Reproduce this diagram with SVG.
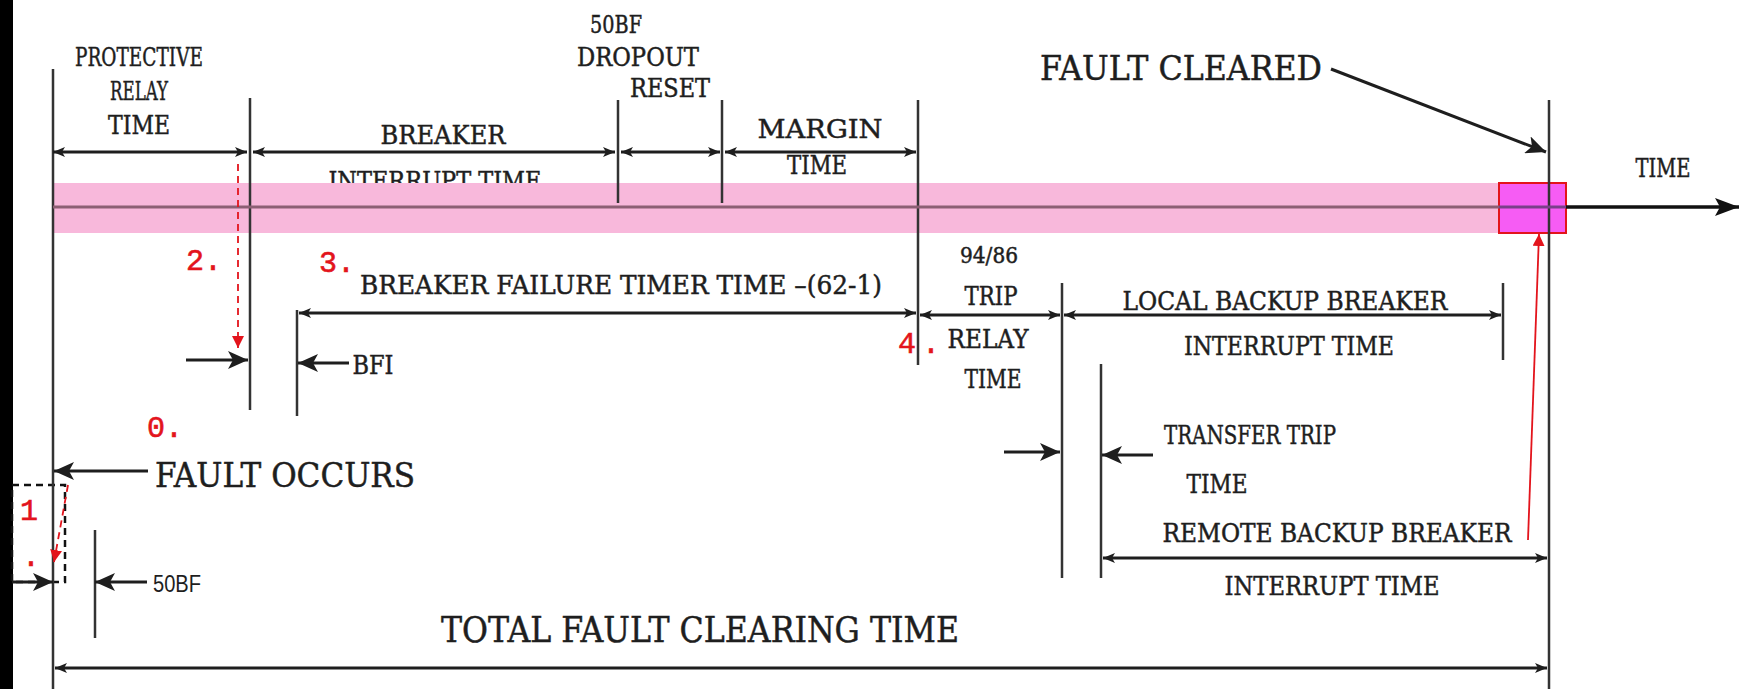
<svg xmlns="http://www.w3.org/2000/svg" width="1739" height="689" viewBox="0 0 1739 689">
<style>
.t{font-family:"DejaVu Serif","Liberation Serif",serif;fill:#1e1e1e;stroke:#1e1e1e;stroke-width:0.5;text-anchor:middle}
.s{font-family:"Liberation Sans",Arial,sans-serif;fill:#1e1e1e}
.r{font-family:"Liberation Mono","DejaVu Sans Mono",monospace;fill:#e3141c;stroke:#e3141c;stroke-width:0.6}
.vl{stroke:#333;stroke-width:2.5;fill:none}
.dim{stroke:#1e1e1e;stroke-width:3;fill:none;marker-start:url(#ah);marker-end:url(#ah)}
.one{stroke:#1e1e1e;stroke-width:3;fill:none;marker-end:url(#ahb)}
.rd{stroke:#e3141c;stroke-width:1.8;fill:none;stroke-dasharray:7 5;marker-end:url(#ahr)}
</style>
<defs>
<marker id="ah" viewBox="0 0 12 10" refX="12" refY="5" markerWidth="12" markerHeight="10" markerUnits="userSpaceOnUse" orient="auto-start-reverse"><path d="M0,0 L12,5 L0,10 L3,5 Z" fill="#1e1e1e"/></marker>
<marker id="ahb" viewBox="0 0 20 18" refX="20" refY="9" markerWidth="20" markerHeight="18" markerUnits="userSpaceOnUse" orient="auto"><path d="M0,0 L20,9 L0,18 L5,9 Z" fill="#1e1e1e"/></marker>
<marker id="ahr" viewBox="0 0 12 12" refX="12" refY="6" markerWidth="12" markerHeight="12" markerUnits="userSpaceOnUse" orient="auto"><path d="M0,0 L12,6 L0,12 Z" fill="#e3141c"/></marker>
<marker id="axis" viewBox="0 0 24 18" refX="24" refY="9" markerWidth="24" markerHeight="18" markerUnits="userSpaceOnUse" orient="auto"><path d="M0,0 L24,9 L0,18 L5,9 Z" fill="#111"/></marker>
</defs>
<rect x="0" y="0" width="1739" height="689" fill="#ffffff"/>
<rect x="0" y="0" width="13" height="689" fill="#000"/>

<g id="labels-top">
<text class="t" x="139" y="66" font-size="26" textLength="128" lengthAdjust="spacingAndGlyphs">PROTECTIVE</text>
<text class="t" x="139" y="100" font-size="26" textLength="58" lengthAdjust="spacingAndGlyphs">RELAY</text>
<text class="t" x="139" y="134" font-size="26" textLength="62" lengthAdjust="spacingAndGlyphs">TIME</text>
<text class="t" x="443" y="144" font-size="26" textLength="125" lengthAdjust="spacingAndGlyphs">BREAKER</text>
<text class="t" x="435" y="190" font-size="26" textLength="213" lengthAdjust="spacingAndGlyphs">INTERRUPT TIME</text>
<text class="t" x="616" y="33" font-size="24" textLength="52" lengthAdjust="spacingAndGlyphs">50BF</text>
<text class="t" x="638" y="66" font-size="26" textLength="122" lengthAdjust="spacingAndGlyphs">DROPOUT</text>
<text class="t" x="670" y="97" font-size="26" textLength="80" lengthAdjust="spacingAndGlyphs">RESET</text>
<text class="t" x="820" y="138" font-size="26" textLength="125" lengthAdjust="spacingAndGlyphs">MARGIN</text>
<text class="t" x="817" y="174" font-size="26" textLength="60" lengthAdjust="spacingAndGlyphs">TIME</text>
</g>

<g id="band">
<rect x="53" y="183" width="1446" height="50" fill="#f8b8db"/>
<rect x="1499" y="183" width="67" height="50" fill="#f65cf4" stroke="#e3141c" stroke-width="2"/>
</g>

<g id="axis-node">
<text class="t" x="1663" y="177" font-size="26" textLength="55" lengthAdjust="spacingAndGlyphs">TIME</text>
<text class="t" x="1181" y="80" font-size="34" textLength="282" lengthAdjust="spacingAndGlyphs">FAULT CLEARED</text>
</g>

<g id="labels-mid">
<text class="t" x="621" y="294" font-size="26" textLength="522" lengthAdjust="spacingAndGlyphs">BREAKER FAILURE TIMER TIME –(62-1)</text>
<text class="t" x="989" y="263" font-size="22" textLength="58" lengthAdjust="spacingAndGlyphs">94/86</text>
<text class="t" x="991" y="305" font-size="26" textLength="53" lengthAdjust="spacingAndGlyphs">TRIP</text>
<text class="t" x="988" y="348" font-size="26" textLength="81" lengthAdjust="spacingAndGlyphs">RELAY</text>
<text class="t" x="993" y="388" font-size="26" textLength="57" lengthAdjust="spacingAndGlyphs">TIME</text>
<text class="t" x="1285" y="310" font-size="26" textLength="325" lengthAdjust="spacingAndGlyphs">LOCAL BACKUP BREAKER</text>
<text class="t" x="1289" y="355" font-size="26" textLength="210" lengthAdjust="spacingAndGlyphs">INTERRUPT TIME</text>
<text class="t" x="373" y="374" font-size="26" textLength="41" lengthAdjust="spacingAndGlyphs">BFI</text>
<text class="t" x="285" y="487" font-size="34" textLength="260" lengthAdjust="spacingAndGlyphs">FAULT OCCURS</text>
<text class="t" x="1250" y="444" font-size="26" textLength="172" lengthAdjust="spacingAndGlyphs">TRANSFER TRIP</text>
<text class="t" x="1217" y="493" font-size="26" textLength="61" lengthAdjust="spacingAndGlyphs">TIME</text>
<text class="t" x="1337" y="542" font-size="26" textLength="349" lengthAdjust="spacingAndGlyphs">REMOTE BACKUP BREAKER</text>
<text class="t" x="1332" y="595" font-size="26" textLength="215" lengthAdjust="spacingAndGlyphs">INTERRUPT TIME</text>
<text class="s" x="153" y="592" font-size="24" textLength="48" lengthAdjust="spacingAndGlyphs">50BF</text>
<text class="t" x="700" y="642" font-size="36" textLength="518" lengthAdjust="spacingAndGlyphs">TOTAL FAULT CLEARING TIME</text>
</g>

<g id="markers-red">
<text class="r" x="186" y="270" font-size="30">2.</text>
<text class="r" x="319" y="272" font-size="30">3.</text>
<text class="r" x="898" y="353" font-size="30">4<tspan x="922">.</tspan></text>
<text class="r" x="147" y="437" font-size="30">0.</text>
<text class="r" x="20" y="520" font-size="30">1<tspan x="22" y="566">.</tspan></text>
<rect x="12" y="485" width="53" height="97" fill="none" stroke="#111" stroke-width="2.5" stroke-dasharray="7 5"/>
</g>

<g id="connectors">
<line class="vl" x1="53" y1="69" x2="53" y2="689"/>
<line class="vl" x1="250" y1="98" x2="250" y2="410"/>
<line class="vl" x1="618" y1="100" x2="618" y2="203"/>
<line class="vl" x1="722" y1="100" x2="722" y2="203"/>
<line class="vl" x1="918" y1="100" x2="918" y2="365"/>
<line class="vl" x1="1549" y1="100" x2="1549" y2="689"/>
<line class="vl" x1="297" y1="310" x2="297" y2="416"/>
<line class="vl" x1="1062" y1="283" x2="1062" y2="578"/>
<line class="vl" x1="1101" y1="364" x2="1101" y2="578"/>
<line class="vl" x1="1503" y1="283" x2="1503" y2="360"/>
<line class="vl" x1="95" y1="530" x2="95" y2="638"/>

<line stroke="#8c5f74" stroke-width="3" x1="53" y1="207" x2="1499" y2="207"/>
<line stroke="#7a3f8a" stroke-width="3" x1="1499" y1="207" x2="1566" y2="207"/>
<line stroke="#111" stroke-width="3.5" x1="1566" y1="207" x2="1739" y2="207" marker-end="url(#axis)"/>

<line class="dim" x1="53" y1="152" x2="247" y2="152"/>
<line class="dim" x1="253" y1="152" x2="615" y2="152"/>
<line class="dim" x1="621" y1="152" x2="720" y2="152"/>
<line class="dim" x1="725" y1="152" x2="916" y2="152"/>
<line class="dim" x1="299" y1="313" x2="916" y2="313"/>
<line class="dim" x1="920" y1="315" x2="1060" y2="315"/>
<line class="dim" x1="1064" y1="315" x2="1501" y2="315"/>
<line class="dim" x1="1103" y1="558" x2="1547" y2="558"/>
<line class="dim" x1="55" y1="668" x2="1547" y2="668"/>

<line class="one" x1="186" y1="360" x2="248" y2="360"/>
<line class="one" x1="349" y1="363" x2="298" y2="363"/>
<line class="one" x1="1004" y1="452" x2="1060" y2="452"/>
<line class="one" x1="1153" y1="455" x2="1102" y2="455"/>
<line class="one" x1="148" y1="471" x2="54" y2="471"/>
<line class="one" x1="12" y1="582" x2="53" y2="582"/>
<line class="one" x1="147" y1="582" x2="95" y2="582"/>
<line stroke="#1e1e1e" stroke-width="3" x1="1331" y1="69" x2="1546" y2="152" marker-end="url(#ahb)"/>

<line class="rd" x1="238" y1="164" x2="238" y2="348"/>
<line class="rd" x1="68" y1="485" x2="54" y2="562"/>
<line stroke="#e3141c" stroke-width="1.8" x1="1528" y1="540" x2="1539" y2="234" marker-end="url(#ahr)"/>
</g>
</svg>
